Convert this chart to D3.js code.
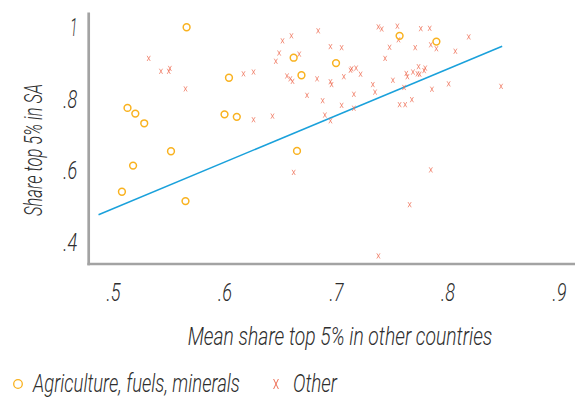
<!DOCTYPE html>
<html>
<head>
<meta charset="utf-8">
<script src="https://cdn.jsdelivr.net/npm/d3@7"></script>
<style>
  html, body { margin: 0; padding: 0; background: #fff; }
  svg { display: block; }
  text { font-family: Roboto, "Open Sans", sans-serif; font-weight: 300; font-style: italic; fill: #2e2e2e; }
</style>
</head>
<body>
<svg id="chart" width="584" height="397"></svg>
<script>
// Agriculture, fuels, minerals: [mean share top 5% elsewhere, share top 5% in SA]
const agriX = [0.566, 0.604, 0.513, 0.520, 0.528, 0.600, 0.611, 0.662, 0.669, 0.700, 0.757, 0.790, 0.552, 0.518, 0.508, 0.565, 0.665];
const agriY = [0.998, 0.857, 0.773, 0.757, 0.730, 0.755, 0.748, 0.913, 0.864, 0.898, 0.974, 0.958, 0.652, 0.612, 0.539, 0.513, 0.653];

// Other sectors
const otherX = [0.532, 0.543, 0.550, 0.551, 0.565, 0.617, 0.626, 0.626, 0.684, 0.660, 0.652, 0.649, 0.646, 0.667,
  0.695, 0.705, 0.656, 0.659, 0.661, 0.683, 0.695, 0.696, 0.707, 0.713, 0.714, 0.718, 0.722, 0.674, 0.688, 0.705,
  0.716, 0.716, 0.690, 0.695, 0.643, 0.733, 0.735, 0.738, 0.741, 0.755, 0.756, 0.748, 0.744, 0.771, 0.776, 0.784,
  0.751, 0.763, 0.764, 0.769, 0.773, 0.774, 0.775, 0.779, 0.780, 0.761, 0.768, 0.757, 0.762, 0.785, 0.790, 0.819,
  0.807, 0.786, 0.801, 0.848, 0.662, 0.785, 0.766, 0.738];
const otherY = [0.911, 0.875, 0.875, 0.883, 0.826, 0.868, 0.873, 0.740, 0.988, 0.974, 0.960, 0.926, 0.903, 0.923,
  0.944, 0.941, 0.862, 0.854, 0.847, 0.854, 0.846, 0.838, 0.860, 0.878, 0.882, 0.884, 0.867, 0.808, 0.793, 0.780,
  0.811, 0.772, 0.753, 0.737, 0.750, 0.838, 0.817, 0.999, 0.993, 1.001, 0.963, 0.942, 0.911, 0.941, 0.994, 0.995,
  0.850, 0.869, 0.860, 0.873, 0.868, 0.888, 0.867, 0.877, 0.884, 0.830, 0.796, 0.782, 0.782, 0.949, 0.938, 0.971,
  0.931, 0.825, 0.840, 0.833, 0.593, 0.600, 0.503, 0.360];

// Fitted line endpoints
const fitX = [0.487, 0.849];
const fitY = [0.475, 0.945];

const xTicks = [0.5, 0.6, 0.7, 0.8, 0.9];
const yTicks = [0.4, 0.6, 0.8, 1];

const legendLabels = ["Agriculture, fuels, minerals", "Other"];
const xTitle = "Mean share top 5% in other countries";
const yTitle = "Share top 5% in SA";

const colAgri = "#f9b21f";
const colOther = "#ee6f56";
const colFit = "#1aa1db";
const colAxis = "#a3a3a3";
const colText = "#2e2e2e";

const svg = d3.select("#chart");

const x = d3.scaleLinear().domain([0.4782, 0.9143]).range([88.7, 575]);
const y = d3.scaleLinear().domain([0.3375, 1.0349]).range([264, 14]);

const fmt = d => d === 1 ? "1" : d3.format(".1f")(d).replace(/^0/, "");

// Narrow a text horizontally so it spans the given width (condensed look)
function condense(sel, width, px, py, rot) {
  const node = sel.node();
  const w = node.getComputedTextLength();
  const s = w > 0 ? width / w : 1;
  sel.attr("x", null).attr("y", null)
    .attr("transform", `translate(${px},${py})${rot ? ` rotate(${rot})` : ""} scale(${s},1)`);
  return sel;
}

// Axes
const gx = svg.append("g").attr("transform", "translate(0,264)")
  .call(d3.axisBottom(x).tickValues(xTicks).tickFormat(fmt).tickSize(0).tickSizeOuter(0));
const gy = svg.append("g").attr("transform", "translate(88.7,0)")
  .call(d3.axisLeft(y).tickValues(yTicks).tickFormat(fmt).tickSize(0).tickSizeOuter(0));

[gx, gy].forEach(g => {
  g.select(".domain").attr("stroke", colAxis).attr("stroke-width", 2.7);
  g.selectAll(".tick text")
    .attr("fill", colText)
    .attr("dy", null)
    .style("font-family", "Roboto, sans-serif")
    .style("font-weight", 300)
    .style("font-style", "italic")
    .style("font-size", "25px");
});
gx.selectAll(".tick text").each(function () {
  condense(d3.select(this).attr("text-anchor", "middle"), 14, 0, 36.5);
});
gy.selectAll(".tick text").each(function (d) {
  condense(d3.select(this).attr("text-anchor", "end"), d === 1 ? 7 : 14, -11.5, 9);
});
gy.select(".domain").attr("d", "M0,12.5V265.3");
gx.select(".domain").attr("d", "M87.4,0H575");

// Fitted line
svg.append("line")
  .attr("x1", x(fitX[0])).attr("y1", y(fitY[0]))
  .attr("x2", x(fitX[1])).attr("y2", y(fitY[1]))
  .attr("stroke", colFit).attr("stroke-width", 1.5);

// Other markers (small x)
const xMark = (w, h) => `M${-w},${-h}L${w},${h}M${-w},${h}L${w},${-h}`;
svg.append("g").selectAll("path")
  .data(d3.range(otherX.length))
  .join("path")
  .attr("transform", i => `translate(${x(otherX[i])},${y(otherY[i])})`)
  .attr("d", xMark(1.6, 2.6))
  .attr("fill", "none")
  .attr("stroke", colOther)
  .attr("stroke-opacity", 0.8)
  .attr("stroke-width", 0.9);

// Agriculture markers (hollow circles)
svg.append("g").selectAll("circle")
  .data(d3.range(agriX.length))
  .join("circle")
  .attr("cx", i => x(agriX[i]))
  .attr("cy", i => y(agriY[i]))
  .attr("r", 3.4)
  .attr("fill", "none")
  .attr("stroke", colAgri)
  .attr("stroke-width", 1.5);

// Axis titles
condense(svg.append("text").attr("text-anchor", "middle").style("font-size", "25px").text(xTitle),
  305, 340, 345);
condense(svg.append("text").attr("text-anchor", "middle").style("font-size", "25px").text(yTitle),
  132, 42, 150, -90);

// Legend
const leg = svg.append("g");
leg.append("circle").attr("cx", 18).attr("cy", 384).attr("r", 4.3)
  .attr("fill", "none").attr("stroke", colAgri).attr("stroke-width", 1.3);
condense(leg.append("text").style("font-size", "25px").text(legendLabels[0]), 207, 33, 392);
leg.append("path").attr("transform", "translate(276,384)")
  .attr("d", xMark(2.4, 5)).attr("fill", "none")
  .attr("stroke", colOther).attr("stroke-width", 1);
condense(leg.append("text").style("font-size", "25px").text(legendLabels[1]), 44, 293, 392);
</script>
</body>
</html>
